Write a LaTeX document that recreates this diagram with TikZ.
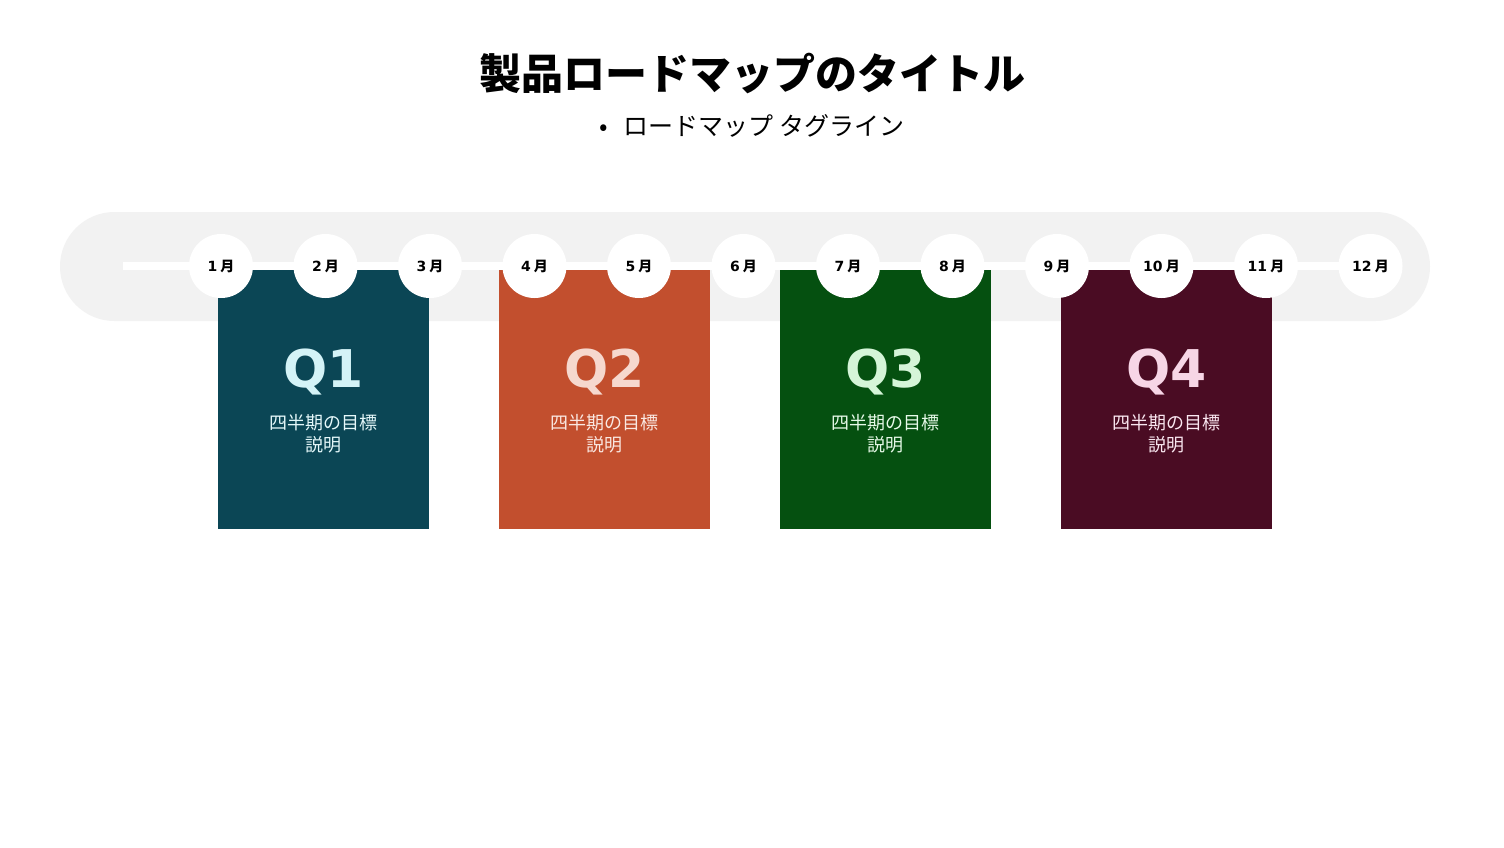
\documentclass[tikz,border=0pt]{standalone}
\usepackage{fontspec}
\setmainfont{Noto Sans CJK JP}
\newfontfamily\jp{Noto Sans CJK JP}
\newfontfamily\dv{DejaVu Sans}
\definecolor{band}{HTML}{F2F2F2}
\definecolor{qa}{HTML}{0B4655}
\definecolor{qb}{HTML}{C24F2E}
\definecolor{qc}{HTML}{055010}
\definecolor{qd}{HTML}{4A0C23}
\definecolor{ta}{HTML}{D4F3F7}
\definecolor{tb}{HTML}{F6D8CE}
\definecolor{tc}{HTML}{D5F5D8}
\definecolor{td}{HTML}{F7D6E6}
\tikzset{
  month/.style={circle,fill=white,minimum size=32pt,inner sep=0pt,font=\fontsize{7}{8}\selectfont\bfseries},
  qbox/.style={minimum width=105.5pt,minimum height=129.5pt,inner sep=0pt,anchor=north west},
  qlab/.style={font=\dv\fontsize{26}{30}\selectfont\bfseries},
  qdesc/.style={font=\jp\fontsize{9}{11}\selectfont,align=center}
}
\begin{document}
\begin{tikzpicture}[x=0.5pt,y=-0.5pt]
\useasboundingbox (0,0) rectangle (1504,847);
\fill[white] (0,0) rectangle (1504,847);
% title
\node[font=\jp\fontsize{21}{24}\selectfont\bfseries] (title) at (752,73) {製品ロードマップのタイトル};
\node[font=\jp\fontsize{12.5}{15}\selectfont] (sub) at (752,126) {•\hspace{0.6em}ロードマップ タグライン};
% band
\fill[band,rounded corners=27.25pt] (60,212) rectangle (1430,321);
\coordinate (ls) at (123,266);
\coordinate (le) at (1372,266);
\draw[white,line width=4pt] (ls) -- (le);
% boxes
\node[qbox,fill=qa] (b1) at (218,270) {};
\node[qbox,fill=qb] (b2) at (499,270) {};
\node[qbox,fill=qc] (b3) at (780,270) {};
\node[qbox,fill=qd] (b4) at (1061,270) {};
% months
\foreach \i/\x in {1/221,2/325.5,3/430,4/534.5,5/639,6/743.5,7/848,8/952.5,9/1057,10/1161.5,11/1266,12/1370.5}{
  \node[month] (m\i) at (\x,266) {{\dv\bfseries\i} {\jp\bfseries 月}};
}
% labels
\foreach \n/\q/\c/\xc in {1/Q1/ta/323.5,2/Q2/tb/604.5,3/Q3/tc/885.5,4/Q4/td/1166.5}{
  \node[qlab,text=\c] (q\n) at (\xc,372) {\q};
  \node[qdesc,text=\c!60!white] (d\n) at (\xc,434) {四半期の目標\\説明};
}
\end{tikzpicture}
\end{document}
